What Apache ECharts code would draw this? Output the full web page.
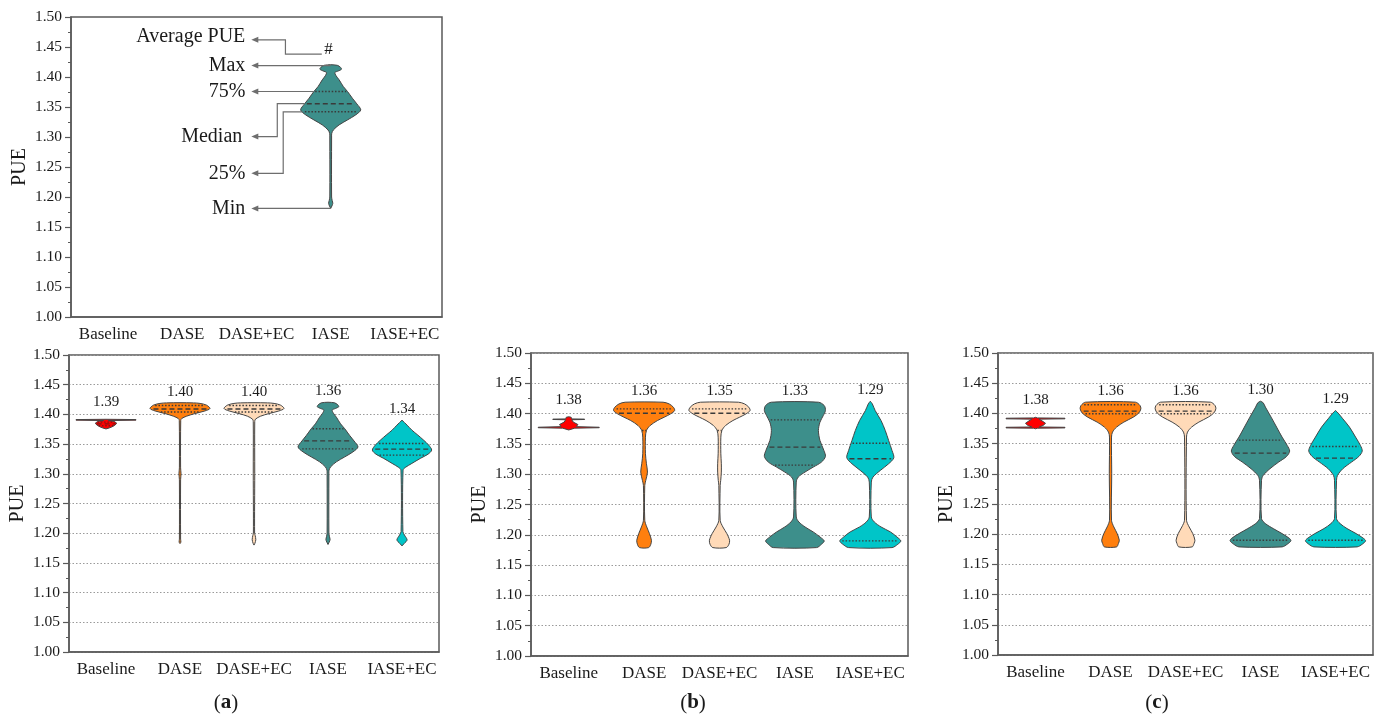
<!DOCTYPE html>
<html><head><meta charset="utf-8">
<script src="https://cdn.jsdelivr.net/npm/echarts@6/dist/echarts.min.js"></script>
<style>html,body{margin:0;padding:0;background:#fff}#main{width:1385px;height:718px}</style>
</head><body><div id="main"></div>
<script>
// ---------- data ----------
const categories = ['Baseline', 'DASE', 'DASE+EC', 'IASE', 'IASE+EC'];
const yMin = 1.00, yMax = 1.50, yStep = 0.05;

// violin profiles: [PUE value, relative density (1 = widest)]  top -> bottom
const a_Baseline = [[1.3918,0],[1.3913,1.0],[1.3903,1.0],[1.3896,0.08],[1.388,0.28],[1.385,0.36],[1.382,0.3],[1.379,0.2],[1.377,0.1],[1.3755,0]];
const a_DASE = [[1.4197,0],[1.4194,0.45],[1.4185,0.67],[1.4155,0.89],[1.4099,1.0],[1.4058,0.83],[1.4014,0.5],[1.397,0.22],[1.393,0.055],[1.390,0.025],[1.31,0.02],[1.30,0.035],[1.29,0.02],[1.19,0.02],[1.185,0.03],[1.1825,0]];
const a_DASE_EC = [[1.4197,0],[1.4194,0.45],[1.4185,0.67],[1.4155,0.89],[1.4099,1.0],[1.4058,0.83],[1.4014,0.5],[1.397,0.22],[1.392,0.05],[1.388,0.025],[1.30,0.025],[1.20,0.02],[1.196,0.04],[1.189,0.06],[1.183,0.03],[1.180,0]];
const a_IASE = [[1.4205,0],[1.4195,0.22],[1.416,0.33],[1.413,0.36],[1.410,0.25],[1.4075,0.14],[1.402,0.18],[1.3953,0.28],[1.3841,0.42],[1.3758,0.56],[1.3647,0.72],[1.3552,0.87],[1.3452,1.0],[1.3368,0.83],[1.3285,0.56],[1.3202,0.28],[1.3118,0.09],[1.3063,0.035],[1.30,0.03],[1.20,0.03],[1.194,0.05],[1.1894,0.07],[1.185,0.04],[1.181,0]];
const a_IASE_EC = [[1.3903,0],[1.3819,0.17],[1.3735,0.33],[1.3651,0.53],[1.3567,0.72],[1.3483,0.89],[1.3399,0.99],[1.3331,0.87],[1.3259,0.61],[1.3175,0.33],[1.3107,0.11],[1.3063,0.035],[1.2027,0.03],[1.197,0.08],[1.1887,0.17],[1.1831,0.08],[1.1786,0]];

const b_Baseline = [[1.3948,0],[1.394,0.08],[1.3912,0.1],[1.3909,0.52],[1.3903,0.52],[1.3898,0.1],[1.386,0.15],[1.382,0.3],[1.3785,0.25],[1.3775,1.0],[1.3767,1.0],[1.376,0.2],[1.373,0]];
const b_DASE = [[1.4188,0.62],[1.416,0.82],[1.4105,0.96],[1.405,1.0],[1.3996,0.87],[1.3941,0.66],[1.3886,0.44],[1.3804,0.2],[1.3721,0.077],[1.3611,0.044],[1.3337,0.044],[1.3172,0.077],[1.3035,0.11],[1.2898,0.055],[1.2816,0.022],[1.2239,0.022],[1.213,0.087],[1.202,0.175],[1.191,0.24],[1.1844,0.22],[1.1789,0.15]];
const b_DASE_EC = [[1.4188,0.62],[1.416,0.82],[1.4105,0.96],[1.405,1.0],[1.3996,0.87],[1.3941,0.66],[1.3886,0.44],[1.3804,0.2],[1.3721,0.077],[1.3611,0.044],[1.3337,0.044],[1.3172,0.06],[1.3035,0.06],[1.2898,0.04],[1.2816,0.022],[1.2239,0.022],[1.213,0.11],[1.202,0.24],[1.191,0.33],[1.1844,0.31],[1.1789,0.22]];
const b_IASE = [[1.4188,0.77],[1.4133,0.96],[1.405,1.0],[1.3968,0.93],[1.3858,0.82],[1.3721,0.77],[1.3557,0.82],[1.3392,0.95],[1.3293,1.0],[1.32,0.87],[1.3117,0.6],[1.3035,0.33],[1.2953,0.11],[1.287,0.044],[1.2294,0.044],[1.2212,0.13],[1.213,0.33],[1.2047,0.6],[1.1965,0.82],[1.1899,0.96],[1.1844,0.87],[1.1789,0.71]];
const b_IASE_EC = [[1.4204,0],[1.416,0.066],[1.405,0.16],[1.3886,0.35],[1.3721,0.49],[1.3557,0.6],[1.3392,0.71],[1.3271,0.77],[1.3172,0.6],[1.3063,0.33],[1.2953,0.087],[1.287,0.033],[1.2294,0.033],[1.2212,0.13],[1.213,0.35],[1.2047,0.66],[1.1965,0.87],[1.1899,1.0],[1.1844,0.9],[1.1789,0.71]];

const c_Baseline = [[1.3935,0],[1.3925,0.06],[1.392,0.97],[1.391,0.97],[1.3905,0.12],[1.3865,0.25],[1.3835,0.33],[1.380,0.25],[1.3775,0.12],[1.377,0.97],[1.376,0.97],[1.3755,0.06],[1.3745,0]];
const c_DASE = [[1.4186,0.82],[1.4132,0.97],[1.4076,1.0],[1.4006,0.93],[1.3938,0.75],[1.3856,0.44],[1.3773,0.2],[1.369,0.066],[1.3608,0.033],[1.30,0.04],[1.2231,0.033],[1.212,0.11],[1.201,0.22],[1.19,0.29],[1.1845,0.26],[1.179,0.2]];
const c_DASE_EC = [[1.4186,0.82],[1.4132,0.97],[1.4076,1.0],[1.4006,0.93],[1.3938,0.75],[1.3856,0.44],[1.3773,0.2],[1.369,0.066],[1.3608,0.033],[1.2231,0.033],[1.212,0.12],[1.201,0.24],[1.19,0.31],[1.1845,0.28],[1.179,0.22]];
const c_IASE = [[1.4202,0],[1.4175,0.09],[1.4105,0.16],[1.3938,0.35],[1.3773,0.53],[1.3608,0.71],[1.347,0.88],[1.3376,0.96],[1.3288,0.86],[1.3195,0.6],[1.3084,0.31],[1.2974,0.09],[1.2892,0.033],[1.2258,0.033],[1.2176,0.16],[1.2093,0.42],[1.201,0.71],[1.1928,0.96],[1.1889,1.0],[1.1834,0.88],[1.179,0.71]];
const c_IASE_EC = [[1.4048,0],[1.4004,0.09],[1.3911,0.24],[1.3773,0.46],[1.3608,0.66],[1.347,0.82],[1.3376,0.88],[1.3288,0.77],[1.3195,0.53],[1.3084,0.24],[1.2974,0.066],[1.2892,0.033],[1.2258,0.033],[1.2176,0.15],[1.2093,0.38],[1.201,0.68],[1.1928,0.93],[1.1889,0.99],[1.1834,0.88],[1.179,0.71]];

// quartiles [25%, median, 75%]
const a_quart = [[1.381,1.384,1.387],[1.404,1.409,1.415],[1.404,1.409,1.415],[1.342,1.3555,1.3758],[1.3315,1.3415,1.351]];
const b_quart = [null,[1.372,1.4007,1.4078],[1.372,1.4007,1.4078],[1.315,1.3447,1.3897],[1.190,1.3255,1.351]];
const c_quart = [null,[1.3993,1.4037,1.4142],[1.3993,1.4037,1.4142],[1.190,1.3343,1.3558],[1.190,1.326,1.3453]];

// average PUE labels
const a_mean = [1.39, 1.40, 1.40, 1.36, 1.34];
const b_mean = [1.38, 1.36, 1.35, 1.33, 1.29];
const c_mean = [1.38, 1.36, 1.36, 1.30, 1.29];

// legend annotation
const annotLabels = ['Average PUE', 'Max', '75%', 'Median', '25%', 'Min'];
const annotY = [1.462, null, null, 1.3007, 1.2394, null];
const panelTags = ['a', 'b', 'c'];

// ---------- styles ----------
const colors = ['#FF0000', '#FF7F0E', '#FFDAB8', '#3D8F8B', '#00C5C8'];
const SERIF = '"Liberation Serif", "Times New Roman", serif';
const frame = '#5a5a5a';
const txt = '#1a1a1a';

function interpD(prof, v) {
  for (let k = 0; k < prof.length - 1; k++) {
    const [v0, d0] = prof[k], [v1, d1] = prof[k + 1];
    if (v <= v0 && v >= v1) {
      const t = v0 === v1 ? 0 : (v0 - v) / (v0 - v1);
      return d0 + (d1 - d0) * t;
    }
  }
  return 0;
}

function violinSeries(gridIdx, profs, quarts, means, catList) {
  return {
    type: 'custom', xAxisIndex: gridIdx, yAxisIndex: gridIdx, silent: true,
    encode: { x: 0, y: 1 },
    data: catList.map(i => [i, 1.3]),
    renderItem(params, api) {
      const i = catList[params.dataIndex];
      const prof = profs[i];
      const cx = api.coord([i, 1.3])[0];
      const bw = api.size([1, 0])[0];
      const H = 0.405 * bw;
      const right = prof.map(([v, d]) => [cx + d * H, api.coord([i, v])[1]]);
      const left = prof.map(([v, d]) => [cx - d * H, api.coord([i, v])[1]]).reverse();
      const children = [{
        type: 'polygon',
        shape: { points: right.concat(left), smooth: i === 0 ? 0 : 0.3 },
        style: { fill: colors[i], stroke: '#454545', lineWidth: 1 }
      }];
      const q = quarts[i];
      if (q) {
        q.forEach((v, k) => {
          const hw = interpD(prof, v) * H * 0.92;
          const y = api.coord([i, v])[1];
          children.push({
            type: 'line', shape: { x1: cx - hw, y1: y, x2: cx + hw, y2: y },
            style: { stroke: i === 0 ? '#8a1010' : '#3a3a3a', lineWidth: 1.4, lineDash: k === 1 ? [5, 3] : [1.5, 1.8] }
          });
        });
      }
      if (means) {
        const topY = api.coord([i, prof[0][0]])[1];
        children.push({
          type: 'text',
          x: cx, y: topY - (i === 0 ? 17 : 11),
          style: { text: means[i].toFixed(2), font: '15px ' + SERIF, fill: txt,
                   align: 'center', verticalAlign: 'middle' }
        });
      }
      return { type: 'group', children };
    }
  };
}

const grids = [
  { left: 71, top: 17, width: 371, height: 300 },
  { left: 69, top: 355, width: 370, height: 297 },
  { left: 531, top: 353, width: 377, height: 303 },
  { left: 998, top: 353, width: 375, height: 302 }
];

const xAxes = grids.map((g, k) => ({
  type: 'category', gridIndex: k, data: categories, boundaryGap: true,
  axisLine: { lineStyle: { color: frame, width: 1.5 } },
  axisTick: { alignWithLabel: true, length: 6, lineStyle: { color: frame, width: 1.2 } },
  axisLabel: { color: txt, fontSize: 17, fontFamily: SERIF, margin: 9, interval: 0 },
  splitLine: { show: false }
}));

const yAxes = grids.map((g, k) => ({
  type: 'value', gridIndex: k, min: yMin, max: yMax, interval: yStep,
  name: 'PUE', nameLocation: 'middle', nameGap: 41,
  nameTextStyle: { color: txt, fontSize: 20, fontFamily: SERIF },
  axisLine: { show: true, lineStyle: { color: frame, width: 1.5 } },
  axisTick: { show: true, length: 6, lineStyle: { color: frame, width: 1.2 } },
  minorTick: { show: true, splitNumber: 2, length: 3, lineStyle: { color: frame, width: 1 } },
  axisLabel: { color: txt, fontSize: 15.5, fontFamily: SERIF, margin: 9, formatter: v => v.toFixed(2) },
  splitLine: { show: k > 0, lineStyle: { color: '#9a9a9a', type: [1.5, 2], width: 1 } }
}));

const annotationSeries = {
  type: 'custom', xAxisIndex: 0, yAxisIndex: 0, silent: true,
  encode: { x: 0, y: 1 }, data: [[3, 1.3]],
  renderItem(params, api) {
    const prof = a_IASE, q = a_quart[3];
    const bw = api.size([1, 0])[0];
    const H = 0.405 * bw;
    const cx = api.coord([3, 1.3])[0];
    const c2 = api.coord([2, 1.3])[0];
    const Y = v => api.coord([3, v])[1];
    const tipX = c2 - 0.07 * bw;
    const textX = tipX - 6;
    const col = '#6e6e6e';
    const ch = [];
    const line = pts => ch.push({ type: 'polyline', shape: { points: pts }, style: { stroke: col, lineWidth: 1.2, fill: null } });
    const arrow = y => ch.push({ type: 'polygon', shape: { points: [[tipX, y], [tipX + 7, y - 3], [tipX + 7, y + 3]] }, style: { fill: col } });
    const label = (s, y, dx) => ch.push({ type: 'text', x: textX - (dx || 0), y,
      style: { text: s, font: '20px ' + SERIF, fill: txt, align: 'right', verticalAlign: 'middle' } });
    const maxV = prof[0][0] - 0.0015, minV = prof[prof.length - 1][0];
    // Average PUE
    const ex = c2 + 0.39 * bw;
    line([[cx - 0.12 * bw, Y(1.438)], [ex, Y(1.438)], [ex, Y(annotY[0])], [tipX + 5, Y(annotY[0])]]);
    arrow(Y(annotY[0])); label(annotLabels[0], Y(annotY[0]) - 3);
    ch.push({ type: 'text', x: cx - 0.03 * bw, y: Y(1.445),
      style: { text: '#', font: '17px ' + SERIF, fill: txt, align: 'center', verticalAlign: 'middle' } });
    // Max
    line([[cx, Y(maxV)], [tipX + 5, Y(maxV)]]); arrow(Y(maxV)); label(annotLabels[1], Y(maxV));
    // 75%
    const x3 = cx - interpD(prof, q[2]) * H;
    line([[x3, Y(q[2])], [tipX + 5, Y(q[2])]]); arrow(Y(q[2])); label(annotLabels[2], Y(q[2]));
    // Median
    const xm = cx - interpD(prof, q[1]) * H, em = c2 + 0.28 * bw;
    line([[xm, Y(q[1])], [em, Y(q[1])], [em, Y(annotY[3])], [tipX + 5, Y(annotY[3])]]);
    arrow(Y(annotY[3])); label(annotLabels[3], Y(annotY[3]), 3);
    // 25%
    const x1 = cx - interpD(prof, q[0]) * H, e1 = c2 + 0.36 * bw;
    line([[x1, Y(q[0])], [e1, Y(q[0])], [e1, Y(annotY[4])], [tipX + 5, Y(annotY[4])]]);
    arrow(Y(annotY[4])); label(annotLabels[4], Y(annotY[4]));
    // Min
    line([[cx, Y(minV)], [tipX + 5, Y(minV)]]); arrow(Y(minV)); label(annotLabels[5], Y(minV));
    return { type: 'group', children: ch };
  }
};

const allCats = categories.map((_, i) => i);
const option = {
  animation: false,
  backgroundColor: '#ffffff',
  grid: grids.map(g => Object.assign({ show: true, borderColor: frame, borderWidth: 1.5, backgroundColor: 'transparent', containLabel: false }, g)),
  xAxis: xAxes,
  yAxis: yAxes,
  series: [
    violinSeries(0, [a_Baseline, a_DASE, a_DASE_EC, a_IASE, a_IASE_EC], a_quart, null, [3]),
    annotationSeries,
    violinSeries(1, [a_Baseline, a_DASE, a_DASE_EC, a_IASE, a_IASE_EC], a_quart, a_mean, allCats),
    violinSeries(2, [b_Baseline, b_DASE, b_DASE_EC, b_IASE, b_IASE_EC], b_quart, b_mean, allCats),
    violinSeries(3, [c_Baseline, c_DASE, c_DASE_EC, c_IASE, c_IASE_EC], c_quart, c_mean, allCats)
  ],
  graphic: panelTags.map((t, k) => ({
    type: 'text', x: [226, 693, 1157][k], y: 703,
    style: {
      text: '{p|(}{b|' + t + '}{p|)}',
      rich: { p: { fontSize: 21, fontFamily: SERIF, fill: txt }, b: { fontSize: 21, fontFamily: SERIF, fontWeight: 'bold', fill: txt } },
      align: 'center', verticalAlign: 'middle'
    }
  }))
};

const chart = echarts.init(document.getElementById('main'), null, { renderer: 'canvas' });
chart.setOption(option);
</script></body></html>
